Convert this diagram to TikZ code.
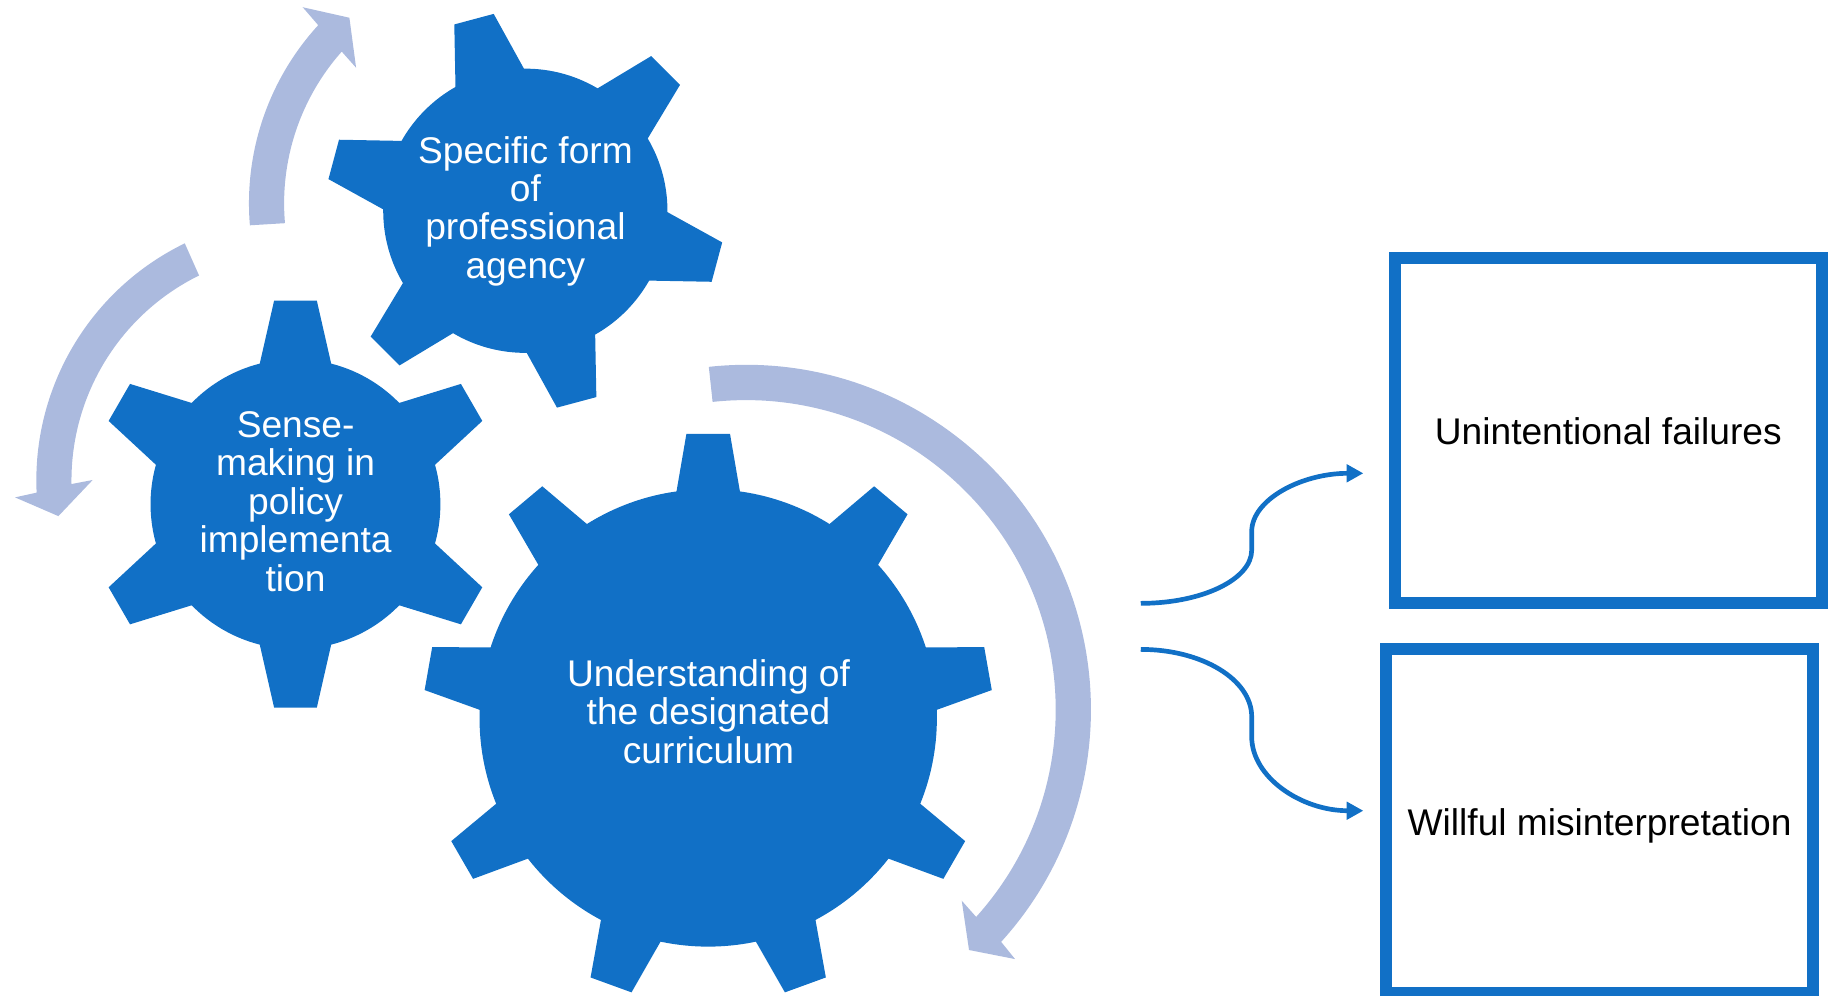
\documentclass[tikz,border=0pt]{standalone}
\usepackage{fontspec}
\setmainfont{Liberation Sans}
\usetikzlibrary{arrows.meta}
\definecolor{gearblue}{RGB}{17,112,198}
\definecolor{arrowlav}{RGB}{171,186,222}
\newcommand{\drawgear}[8]{%
  \begin{scope}[shift={(#1,#2)}]
    \fill[gearblue] (0,0) circle[radius=#3];
    \foreach \a in {#8} {
      \fill[gearblue, rotate=\a] (#4,-#5) -- (#4,#5) -- (#6,#7) -- (#6,-#7) -- cycle;
    }
  \end{scope}}
\begin{document}
\begin{tikzpicture}[yscale=-1, x=1pt, y=1pt,
  cyclearrow/.style={fill=arrowlav},
  geartext/.style={text=white, align=center, anchor=base, inner sep=0pt,
    font=\fontsize{31.7}{32.8}\selectfont},
  resultbox/.style={draw=gearblue, line width=10pt, inner sep=0pt, text=black,
    text height=24pt, text depth=0pt, font=\fontsize{31.7}{36}\selectfont},
  flowline/.style={draw=gearblue, line width=4pt, -{Triangle[length=14.2pt,width=14.6pt]}}
]
\useasboundingbox (0,0) rectangle (1568,850);

% gears
\drawgear{448.4}{179.9}{121.3}{169.3}{17.4}{90}{37.05}{-105,-45,15,75,135,-165}
\drawgear{252.2}{430.3}{123.7}{173.6}{18.25}{90}{37.3}{-90,-30,30,90,150,-150}
\drawgear{604.5}{612.8}{195.2}{242.5}{18.6}{160}{32.8}{-90,-50,-10,30,70,110,150,-170,-130}

% circular arrows
\begin{scope}[shift={(437.5,173.5)}]
  \fill[cyclearrow] (175.2:225) arc[start angle=175.2, end angle=222.5, radius=225]
    -- (223.05:245.1) -- (228.67:210.9) -- (220.9:176.7)
    -- (221.6:195) arc[start angle=221.6, end angle=175.0, radius=195] -- cycle;
\end{scope}
\begin{scope}[shift={(256,410.1)}]
  \fill[cyclearrow] (244.1:225) arc[start angle=244.1, end angle=177.35, radius=225]
    -- (176.6:243.6) -- (171.6:208.4) -- (180.13:176.9)
    -- (179.1:195) arc[start angle=179.1, end angle=243.8, radius=195] -- cycle;
\end{scope}
\begin{scope}[shift={(636.8,605.8)}]
  \fill[cyclearrow] (-96.2:294.4) arc[start angle=-96.2, end angle=42.3, radius=294.4]
    -- (42.83:313.05) -- (47.14:279.8) -- (41.52:245.9)
    -- (42.0:264.3) arc[start angle=42.0, end angle=-96.2, radius=264.3] -- cycle;
\end{scope}

% gear labels (anchor = baseline of the last line)
\node[geartext] (gtop) at (448.5,237.6) {Specific form\\of\\professional\\agency};
\node[geartext] (gsmall) at (252.3,504.5) {Sense-\\making in\\policy\\implementa\\tion};
\node[geartext] (gbig) at (604.8,651.5) {Understanding of\\the designated\\curriculum};

% result boxes
\node[resultbox, minimum width=364.6pt, minimum height=294.1pt] (boxA) at (1372.8,367.45) {Unintentional failures};
\node[resultbox, minimum width=364.1pt, minimum height=293.8pt] (boxB) at (1365.35,700.9) {Willful misinterpretation};

% connectors
\coordinate (u0) at (973.7,515);
\coordinate (u1) at (1068.4,469.5);
\coordinate (u2) at (1068.4,453.8);
\coordinate (u3) at (1163.7,404);
\coordinate (l0) at (973.7,554.3);
\coordinate (l1) at (1068.4,611.7);
\coordinate (l2) at (1068.4,628.8);
\coordinate (l3) at (1163.7,692);
\draw[flowline] (u0) .. controls (1026,515) and (1068.4,494.6) .. (u1) -- (u2)
  .. controls (1068.4,426.3) and (1111.1,404) .. (u3);
\draw[flowline] (l0) .. controls (1026,554.3) and (1068.4,580) .. (l1) -- (l2)
  .. controls (1068.4,663.7) and (1111.1,692) .. (l3);
\end{tikzpicture}
\end{document}
